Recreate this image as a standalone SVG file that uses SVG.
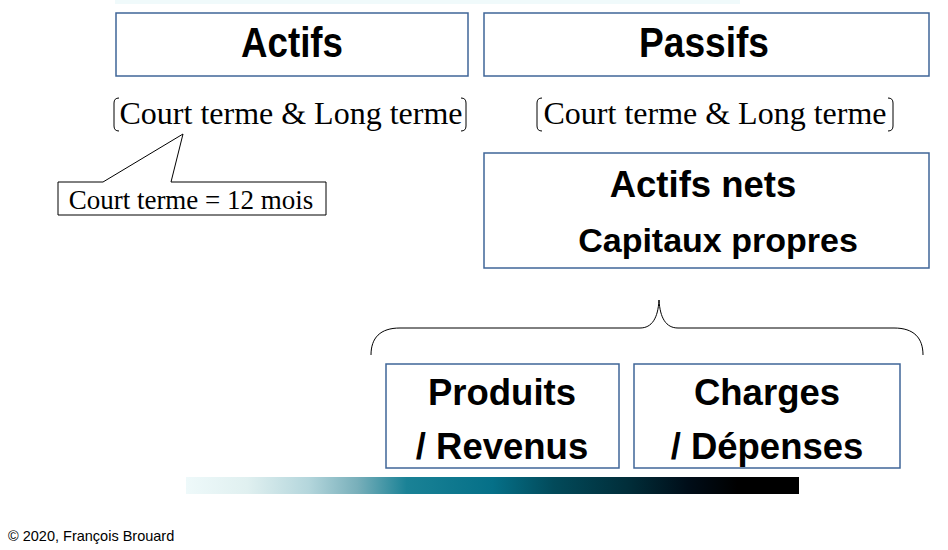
<svg xmlns="http://www.w3.org/2000/svg" width="948" height="550" viewBox="0 0 948 550">
<style>
.box{fill:#ffffff;stroke:#3f6598;stroke-width:1.5}
.big{font-family:"Liberation Sans",Arial,sans-serif;font-weight:bold;fill:#000;text-anchor:middle}
.ser{font-family:"Liberation Serif","Times New Roman",serif;fill:#000}
.ln{fill:none;stroke:#000;stroke-width:1}
</style>
<defs>
<linearGradient id="bar" x1="0" x2="1" y1="0" y2="0">
<stop offset="0" stop-color="#eef9fa"/>
<stop offset="0.1" stop-color="#e0f0f0"/>
<stop offset="0.2" stop-color="#b4d6dc"/>
<stop offset="0.28" stop-color="#78afba"/>
<stop offset="0.36" stop-color="#1a8296"/>
<stop offset="0.5" stop-color="#057088"/>
<stop offset="0.6" stop-color="#024a5a"/>
<stop offset="0.72" stop-color="#012e3a"/>
<stop offset="0.82" stop-color="#000d18"/>
<stop offset="0.9" stop-color="#000000"/>
<stop offset="1" stop-color="#000000"/>
</linearGradient>
</defs>
<rect x="0" y="0" width="948" height="550" fill="#ffffff"/>
<rect x="115" y="0" width="625" height="4" fill="#f0fafb"/>
<rect x="186" y="477" width="613" height="17" fill="url(#bar)"/>

<g id="actifs">
<rect class="box" x="116" y="13" width="352" height="63"/>
<text class="big" x="292" y="57" font-size="42" textLength="102" lengthAdjust="spacingAndGlyphs">Actifs</text>
</g>
<g id="passifs">
<rect class="box" x="484" y="13" width="445" height="63"/>
<text class="big" x="704" y="57" font-size="42" textLength="130" lengthAdjust="spacingAndGlyphs">Passifs</text>
</g>

<g id="terme-actifs">
<path class="ln" d="M119,98 Q114,98 114,103 L114,126 Q114,131 119,131"/>
<path class="ln" d="M461,98 Q466,98 466,103 L466,126 Q466,131 461,131"/>
<text class="ser" x="291" y="124" font-size="32" text-anchor="middle">Court terme &amp; Long terme</text>
</g>
<g id="terme-passifs">
<path class="ln" d="M542,98 Q537,98 537,103 L537,126 Q537,131 542,131"/>
<path class="ln" d="M888,98 Q893,98 893,103 L893,126 Q893,131 888,131"/>
<text class="ser" x="715" y="124" font-size="32" text-anchor="middle">Court terme &amp; Long terme</text>
</g>

<g id="callout">
<path d="M58,182 L103,182 L183,134 L171,182 L326,182 L326,215 L58,215 Z" fill="#ffffff" stroke="#000" stroke-width="1"/>
<text class="ser" x="191" y="209" font-size="27" text-anchor="middle">Court terme = 12 mois</text>
</g>

<g id="actifs-nets">
<rect class="box" x="484" y="153" width="445" height="115"/>
<text class="big" x="703" y="197" font-size="36.5">Actifs nets</text>
<text class="big" x="718" y="252" font-size="34">Capitaux propres</text>
</g>

<g id="connectors">
<path class="ln" d="M371,355 C371,338 380,328 400,328 L640,328 C652,328 658,318 659,300 C660,318 666,328 678,328 L894,328 C914,328 923,338 923,355"/>
</g>

<g id="produits">
<rect class="box" x="386" y="364" width="233" height="104"/>
<text class="big" x="502" y="405" font-size="36.5">Produits</text>
<text class="big" x="502" y="459" font-size="36.5">/ Revenus</text>
</g>
<g id="charges">
<rect class="box" x="634" y="364" width="266" height="104"/>
<text class="big" x="767" y="405" font-size="36.5">Charges</text>
<text class="big" x="767" y="459" font-size="36.5">/ Dépenses</text>
</g>

<text x="8" y="541" font-family="'Liberation Sans',Arial,sans-serif" font-size="14.5" fill="#000">© 2020, François Brouard</text>
</svg>
